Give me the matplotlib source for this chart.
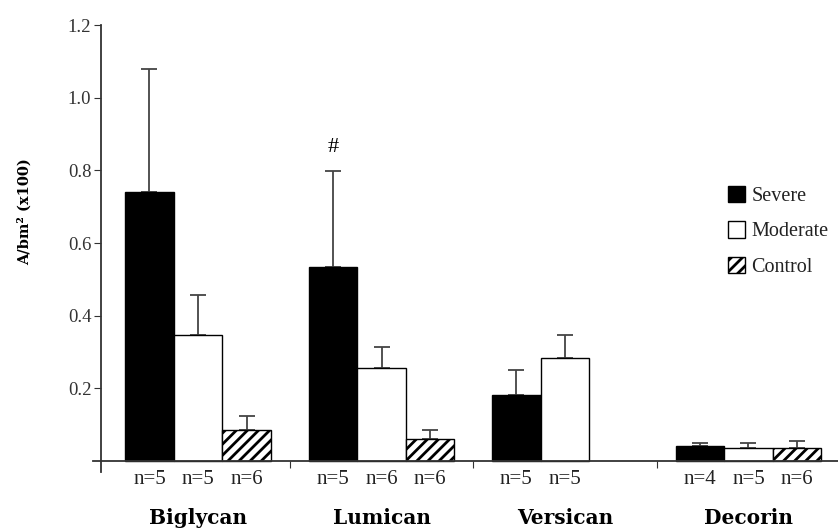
import matplotlib
matplotlib.use("Agg")
import matplotlib.pyplot as plt
import numpy as np
from matplotlib.patches import Patch

plt.rcParams["font.family"] = ["Liberation Serif", "DejaVu Serif"]
plt.rcParams["hatch.linewidth"] = 2.0

# ---- data ----
genes = ["Biglycan", "Lumican", "Versican", "Decorin"]
groups = ["Severe", "Moderate", "Control"]
severe = [0.741, 0.534, 0.182, 0.041]
moderate = [0.347, 0.256, 0.284, 0.036]
control = [0.085, 0.061, np.nan, 0.036]
severe_err = [0.338, 0.265, 0.069, 0.009]
moderate_err = [0.110, 0.058, 0.063, 0.014]
control_err = [0.039, 0.024, np.nan, 0.019]
n_severe = ["n=5", "n=5", "n=5", "n=4"]
n_moderate = ["n=5", "n=6", "n=5", "n=5"]
n_control = ["n=6", "n=6", "", "n=6"]

x = np.arange(len(genes))
w = 0.265
styles = [dict(facecolor="black", hatch=None),
          dict(facecolor="white", hatch=None),
          dict(facecolor="white", hatch="///")]

fig = plt.figure(figsize=(8.38, 5.32), dpi=100)
ax = fig.add_axes([0.1205, 0.1128, 0.8795, 0.8402])

series = [(severe, severe_err, n_severe), (moderate, moderate_err, n_moderate),
          (control, control_err, n_control)]
for i, (vals, errs, ns) in enumerate(series):
    pos = x + (i - 1) * w
    ax.bar(pos, vals, w, edgecolor="black", linewidth=1.0, zorder=2, **styles[i])
    ax.errorbar(pos, vals, yerr=[np.zeros(len(vals)), errs], fmt="none",
                ecolor="#444444", elinewidth=1.3, capsize=6, capthick=1.3, zorder=1)
    for p, t in zip(pos, ns):
        ax.text(p, -0.052, t, ha="center", va="center", fontsize=15, color="#222222")

for xi, g in zip(x, genes):
    ax.text(xi, -0.157, g, ha="center", va="center", fontsize=14.5,
            fontweight="bold", family="DejaVu Serif")

# significance mark on Lumican / Severe
ax.text(x[1] - w, 0.862, "#", ha="center", va="center", fontsize=16)

ax.set_xlim(-0.529, 3.488)
ax.set_ylim(-0.03, 1.2)
ax.spines["top"].set_visible(False)
ax.spines["right"].set_visible(False)
ax.spines["bottom"].set_position(("data", 0))
ax.spines["bottom"].set_bounds(-0.57, 3.488)
ax.spines["left"].set_bounds(-0.03, 1.2)
for s in ("left", "bottom"):
    ax.spines[s].set_color("#333333")
    ax.spines[s].set_linewidth(1.3)

ax.set_xticks([0.5, 1.5, 2.5])
ax.set_xticklabels([])
ax.tick_params(axis="x", direction="out", length=5, color="#333333")
ax.set_yticks([0.2, 0.4, 0.6, 0.8, 1.0, 1.2])
ax.set_yticklabels(["0.2", "0.4", "0.6", "0.8", "1.0", "1.2"])
ax.tick_params(axis="y", direction="out", length=5, color="#333333",
               labelsize=13.5, labelcolor="#333333", pad=2)

fig.text(25 / 838, 1 - 212 / 532, "A/bm² (x100)", rotation=90, ha="center",
         va="center", fontsize=10.5, fontweight="bold", family="DejaVu Serif")

handles = [Patch(facecolor=styles[i]["facecolor"], edgecolor="black",
                 hatch=styles[i]["hatch"], label=g) for i, g in enumerate(groups)]
leg = ax.legend(handles=handles, loc="upper left", bbox_to_anchor=(0.84, 0.657),
                frameon=False, fontsize=14.5, handlelength=0.85, handleheight=0.85,
                handletextpad=0.3, labelspacing=0.75, borderaxespad=0)
for t in leg.get_texts():
    t.set_color("#222222")

fig.savefig("out.png", dpi=100)
